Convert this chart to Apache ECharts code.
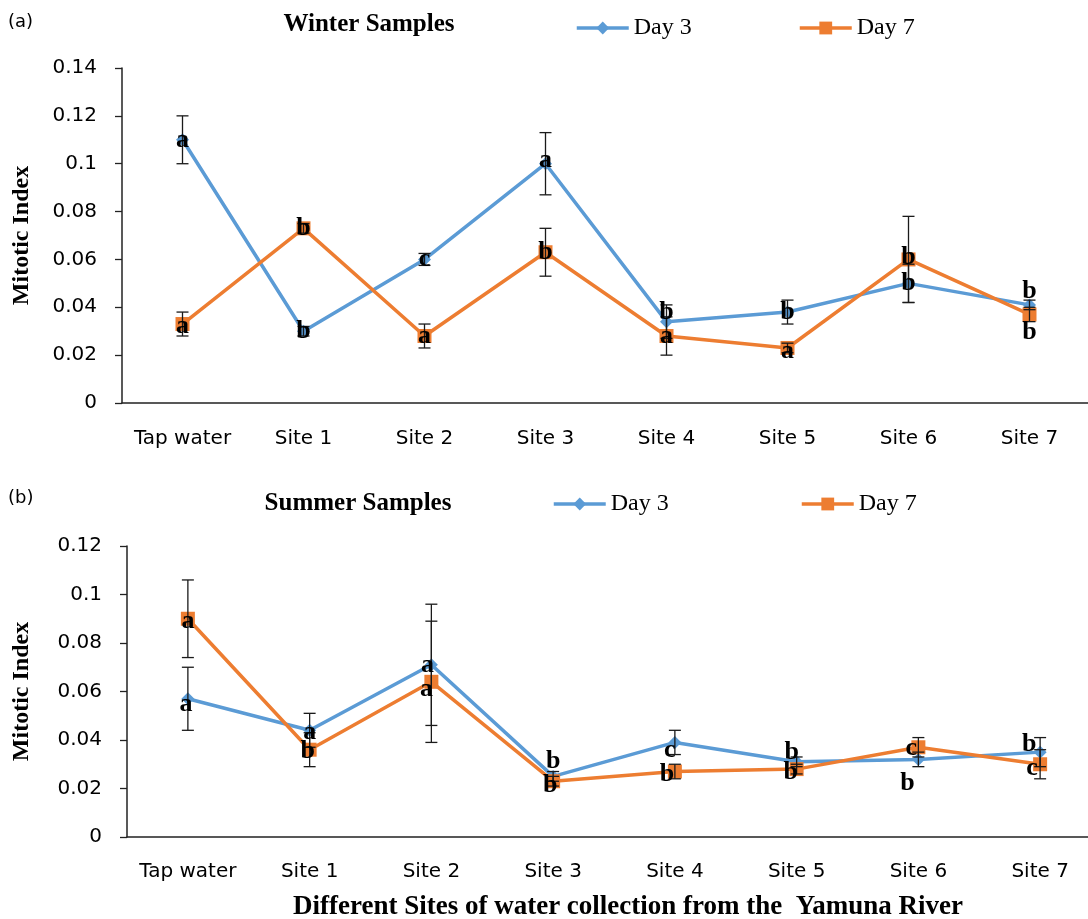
<!DOCTYPE html>
<html><head><meta charset="utf-8">
<script src="https://cdn.jsdelivr.net/npm/echarts@6/dist/echarts.min.js"></script>
<style>html,body{margin:0;padding:0;background:#fff}#c{width:1088px;height:919px}</style>
</head><body><div id="c"></div>
<script>
const categories = ['Tap water','Site 1','Site 2','Site 3','Site 4','Site 5','Site 6','Site 7'];

const winterDay3 = [0.110, 0.030, 0.060, 0.100, 0.034, 0.038, 0.050, 0.041];
const winterDay3Err = [0.010, 0.002, 0.0025, 0.013, 0.007, 0.005, 0.008, 0.002];
const winterDay7 = [0.033, 0.073, 0.028, 0.063, 0.028, 0.023, 0.060, 0.037];
const winterDay7Err = [0.005, 0.002, 0.005, 0.010, 0.008, 0.002, 0.018, 0.003];

const summerDay3 = [0.057, 0.044, 0.071, 0.025, 0.039, 0.031, 0.032, 0.035];
const summerDay3Err = [0.013, 0.007, 0.025, 0.002, 0.005, 0.002, 0.003, 0.006];
const summerDay7 = [0.090, 0.036, 0.064, 0.023, 0.027, 0.028, 0.037, 0.030];
const summerDay7Err = [0.016, 0.007, 0.025, 0.002, 0.003, 0.002, 0.004, 0.006];

const winterDay3Letters = ['a','b','c','a','b','b','b','b'];
const winterDay7Letters = ['a','b','a','b','a','a','b','b'];
const summerDay3Letters = ['a','a','a','b','c','b','b','b'];
const summerDay7Letters = ['a','b','a','b','b','b','c','c'];

const winterMax = 0.14, summerMax = 0.12, yStep = 0.02;

// label nudges in pixels (layout only)
const wD3Off = [[0,0],[0,0],[0,0],[0,-3],[0,-9],[0,0],[0,0],[0,-14]];
const wD7Off = [[0,2],[0,0],[0,0],[0,0],[0,0],[0,3],[0,-2],[0,18]];
const sD3Off = [[-2,6],[0,2],[-4,0],[0,-15],[-5,8],[-5,-10],[-11,24],[-11,-8]];
const sD7Off = [[0,3],[-2,2],[-5,7],[-3,4],[-8,3],[-6,3],[-7,1],[-8,4]];

const BLUE = '#5B9BD5', ORANGE = '#ED7D31';
const SERIF = '"Liberation Serif","Times New Roman",serif';
const SANS = '"DejaVu Sans",sans-serif';

const chart = echarts.init(document.getElementById('c'), null, {renderer:'canvas'});

function lineSeries(name, vals, g, color, symbol, size){
  return {type:'line', name, xAxisIndex:g, yAxisIndex:g, data:vals, symbol, symbolSize:size,
    color, itemStyle:{color}, lineStyle:{color, width:3.5}, z:3, animation:false};
}
function errSeries(vals, errs, g){
  return {type:'custom', xAxisIndex:g, yAxisIndex:g, z:4, animation:false, silent:true,
    data: vals.map((v,i)=>[i, v-errs[i], v+errs[i]]),
    encode:{x:0, y:[1,2]},
    renderItem(params, api){
      const x = api.value(0);
      const p1 = api.coord([x, api.value(1)]), p2 = api.coord([x, api.value(2)]);
      const w = 6, st = {stroke:'#1a1a1a', lineWidth:1.3};
      return {type:'group', children:[
        {type:'line', shape:{x1:p1[0],y1:p1[1],x2:p2[0],y2:p2[1]}, style:st},
        {type:'line', shape:{x1:p1[0]-w,y1:p1[1],x2:p1[0]+w,y2:p1[1]}, style:st},
        {type:'line', shape:{x1:p2[0]-w,y1:p2[1],x2:p2[0]+w,y2:p2[1]}, style:st}
      ]};
    }};
}
function letterSeries(vals, letters, offs, g){
  return {type:'custom', xAxisIndex:g, yAxisIndex:g, z:6, animation:false, silent:true,
    data: vals.map((v,i)=>[i, v]),
    encode:{x:0, y:1},
    renderItem(params, api){
      const i = params.dataIndex;
      const p = api.coord([api.value(0), api.value(1)]);
      return {type:'text', x:p[0]+offs[i][0], y:p[1]+offs[i][1],
        style:{text:letters[i], fill:'#000', font:'bold 26px '+SERIF, align:'center', verticalAlign:'middle'}};
    }};
}

function xAxis(g){
  return {type:'category', gridIndex:g, data:categories, boundaryGap:true,
    axisLine:{lineStyle:{color:'#222', width:1.5}}, axisTick:{show:false},
    axisLabel:{color:'#000', fontSize:20, fontFamily:SANS, margin: g===0?26:25, interval:0}};
}
function yAxis(g, max){
  return {type:'value', gridIndex:g, min:0, max, interval:yStep,
    name:'Mitotic Index', nameLocation:'middle', nameRotate:90, nameGap: g===0?88:93,
    nameTextStyle:{fontFamily:SERIF, fontWeight:'bold', fontSize:24, color:'#000'},
    axisLine:{show:true, lineStyle:{color:'#222', width:1.5}},
    axisTick:{show:true, length:7, lineStyle:{color:'#222', width:1.3}},
    splitLine:{show:false},
    axisLabel:{color:'#000', fontSize:20, fontFamily:SANS, margin:25}};
}
function legend(name, left, top){
  return {data:[name], left, top, padding:0, itemWidth:52, itemHeight:16, itemGap:0,
    lineStyle:{width:3.5}, itemStyle:{borderWidth:0},
    textStyle:{fontFamily:SERIF, fontSize:24, color:'#000'}, selectedMode:false};
}

const option = {
  backgroundColor:'#fff',
  animation:false,
  grid:[
    {left:122, top:68, width:968, height:335, outerBoundsMode:'none', containLabel:false},
    {left:127, top:546, width:974, height:291, outerBoundsMode:'none', containLabel:false}
  ],
  xAxis:[xAxis(0), xAxis(1)],
  yAxis:[yAxis(0, winterMax), yAxis(1, summerMax)],
  legend:[
    legend('Day 3', 575, 16), legend('Day 7', 798, 16),
    legend('Day 3', 552, 492), legend('Day 7', 800, 492)
  ],
  graphic:[
    {type:'text', x:8, y:22, style:{text:'(a)', font:'18px '+SANS, fill:'#000', verticalAlign:'middle'}},
    {type:'text', x:369, y:25, style:{text:'Winter Samples', font:'bold 25px '+SERIF, fill:'#000', align:'center', verticalAlign:'middle'}},
    {type:'text', x:8, y:498, style:{text:'(b)', font:'18px '+SANS, fill:'#000', verticalAlign:'middle'}},
    {type:'text', x:358, y:504, style:{text:'Summer Samples', font:'bold 25px '+SERIF, fill:'#000', align:'center', verticalAlign:'middle'}},
    {type:'text', x:628, y:907, style:{text:'Different Sites of water collection from the  Yamuna River', font:'bold 27px '+SERIF, fill:'#000', align:'center', verticalAlign:'middle'}}
  ],
  series:[
    lineSeries('Day 3', winterDay3, 0, BLUE, 'diamond', 13),
    lineSeries('Day 7', winterDay7, 0, ORANGE, 'rect', 14),
    errSeries(winterDay3, winterDay3Err, 0),
    errSeries(winterDay7, winterDay7Err, 0),
    letterSeries(winterDay3, winterDay3Letters, wD3Off, 0),
    letterSeries(winterDay7, winterDay7Letters, wD7Off, 0),
    lineSeries('Day 3', summerDay3, 1, BLUE, 'diamond', 13),
    lineSeries('Day 7', summerDay7, 1, ORANGE, 'rect', 14),
    errSeries(summerDay3, summerDay3Err, 1),
    errSeries(summerDay7, summerDay7Err, 1),
    letterSeries(summerDay3, summerDay3Letters, sD3Off, 1),
    letterSeries(summerDay7, summerDay7Letters, sD7Off, 1)
  ]
};
chart.setOption(option);
</script>
</body></html>
